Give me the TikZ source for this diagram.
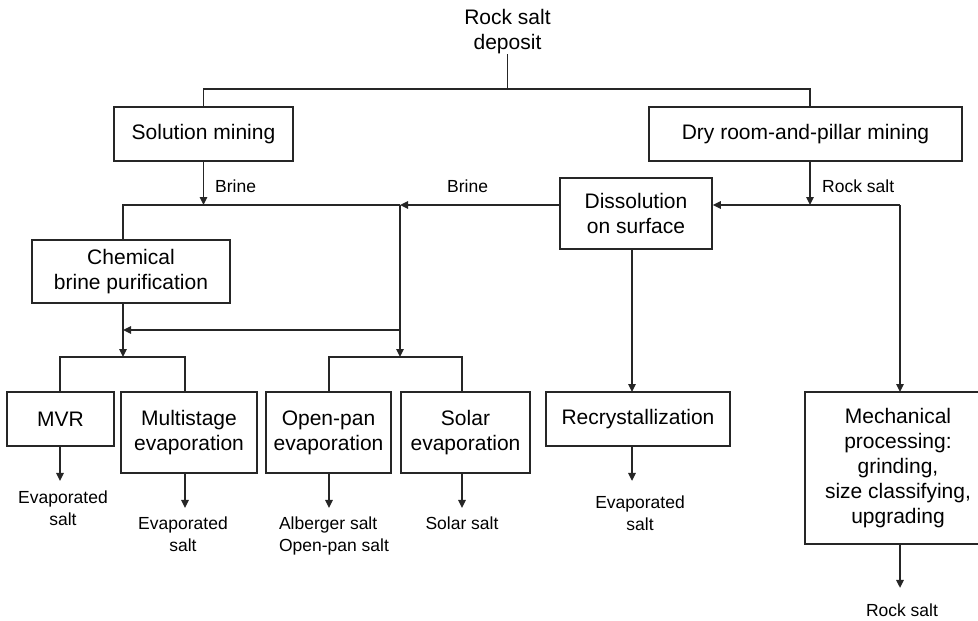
\documentclass[tikz,border=0pt]{standalone}
\usepackage{fontspec}
\setmainfont{Liberation Sans}
\usetikzlibrary{arrows.meta}
\tikzset{
  ln/.style={line width=1.5pt, draw=black!85},
  arr/.style={ln, -{Triangle[length=8pt,width=7.5pt]}},
  box/.style={draw=black!85, line width=1.7pt, align=center, inner sep=2pt,
    font=\fontsize{21}{25}\selectfont},
  big/.style={align=center, inner sep=0pt, font=\fontsize{21}{25}\selectfont},
  lab/.style={align=center, inner sep=0pt, font=\fontsize{17.5}{21.5}\selectfont},
}
\begin{document}
\begin{tikzpicture}[x=1pt,y=-1pt]
\useasboundingbox (0,0) rectangle (978,621);

% nodes
\node[big, anchor=south] (top) at (507.5,54) {Rock salt\\deposit};
\node[box, minimum width=179pt, minimum height=54pt] (sol) at (203.5,134) {Solution mining};
\node[box, minimum width=313pt, minimum height=54pt] (dry) at (805.5,134) {Dry room-and-pillar mining};
\node[box, minimum width=152pt, minimum height=71pt] (diss) at (636,213.5) {Dissolution\\on surface};
\node[box, minimum width=198pt, minimum height=63pt] (chem) at (131,271.5) {Chemical\\brine purification};
\node[box, minimum width=107pt, minimum height=54pt] (mvr) at (60.5,419) {MVR};
\node[box, minimum width=136pt, minimum height=81pt] (multi) at (189,432.5) {Multistage\\evaporation};
\node[box, minimum width=125pt, minimum height=81pt] (open) at (328.5,432.5) {Open-pan\\evaporation};
\node[box, minimum width=129pt, minimum height=81pt] (solar) at (465.5,432.5) {Solar\\evaporation};
\node[box, minimum width=184pt, minimum height=54pt] (recr) at (638,419) {Recrystallization};
\node[box, minimum width=186pt, minimum height=152pt] (mech) at (898,468) {Mechanical\\processing:\\grinding,\\size classifying,\\upgrading};

% labels
\node[lab, anchor=west] (brine1) at (215,186) {Brine};
\node[lab, anchor=west] (brine2) at (447,186) {Brine};
\node[lab, anchor=west] (rocklab) at (822,186) {Rock salt};
\node[lab, anchor=north] (outmvr) at (63,491) {Evaporated\\salt};
\node[lab, anchor=north] (outmulti) at (183,517) {Evaporated\\salt};
\node[lab, anchor=north, align=left] (outopen) at (334,517) {Alberger salt\\Open-pan salt};
\node[lab, anchor=north] (outsolar) at (462,517) {Solar salt};
\node[lab, anchor=north] (outrecr) at (640,496) {Evaporated\\salt};
\node[lab, anchor=north] (outmech) at (902,604) {Rock salt};

% junction coordinates
\coordinate (tj) at (507.5,89);
\coordinate (dryin) at (810,107);
\coordinate (dryout) at (810,161);
\coordinate (bj) at (203.5,205);
\coordinate (chemin) at (123,240);
\coordinate (chemout) at (123,303);
\coordinate (bm) at (400,205);
\coordinate (rj) at (810,205);
\coordinate (mj) at (900,205);
\coordinate (mechin) at (900,392);
\coordinate (dissout) at (632,249);
\coordinate (recin) at (632,392);
\coordinate (cj) at (123,330);
\coordinate (oj) at (400,330);
\coordinate (lb) at (123,357);
\coordinate (rb) at (400,357);
\coordinate (mvrin) at (60,392);
\coordinate (multiin) at (185,392);
\coordinate (openin) at (329,392);
\coordinate (solarin) at (462,392);

% top tree
\draw[ln] (top.south) -- (tj);
\draw[ln] (sol.north) |- (tj) -| (dryin);
\draw[arr] (sol.south) -- (bj);
\draw[arr] (dryout) -- (rj);

% brine line
\draw[ln] (chemin) |- (bm);
\draw[arr] (diss.west |- bm) -- (bm);
\draw[arr] (bm) -- (rb);
\draw[arr] (oj) -- (cj);
\draw[arr] (chemout) -- (lb);

% right side
\draw[arr] (mj) -- (mj -| diss.east);
\draw[arr] (mj) -- (mechin);
\draw[arr] (dissout) -- (recin);

% brackets
\draw[ln] (mvrin) |- (lb) -| (multiin);
\draw[ln] (openin) |- (rb) -| (solarin);

% outputs
\draw[arr] (mvr.south -| mvrin) -- ++(0,34);
\draw[arr] (multi.south -| multiin) -- ++(0,34);
\draw[arr] (open.south -| openin) -- ++(0,34);
\draw[arr] (solar.south -| solarin) -- ++(0,34);
\draw[arr] (recr.south -| recin) -- ++(0,34);
\draw[arr] (mech.south -| mechin) -- ++(0,43);
\end{tikzpicture}
\end{document}
